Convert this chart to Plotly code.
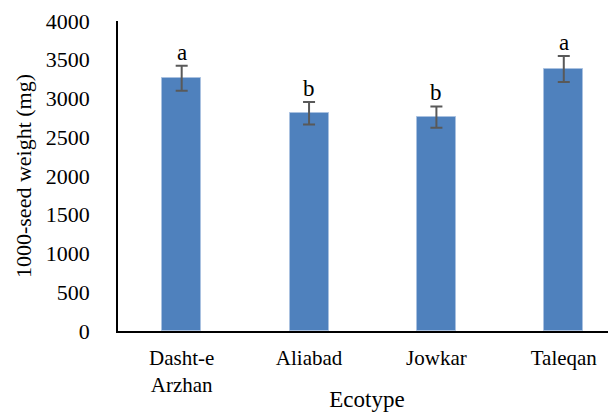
import plotly.graph_objects as go

categories = ["Dasht-e<br>Arzhan", "Aliabad", "Jowkar", "Taleqan"]
means = [3262, 2810, 2760, 3380]
errors = [162, 146, 138, 167]
letters = ["a", "b", "b", "a"]
y_ticks = [0, 500, 1000, 1500, 2000, 2500, 3000, 3500, 4000]

FONT = "Liberation Serif"

fig = go.Figure()
fig.add_trace(go.Bar(
    x=list(range(len(categories))),
    y=means,
    width=0.306,
    marker=dict(color="#4F81BD", line=dict(color="#A9C1E0", width=1)),
    error_y=dict(type="data", array=errors, visible=True,
                 color="#595959", thickness=2, width=6),
))

for i, (m, e, t) in enumerate(zip(means, errors, letters)):
    fig.add_annotation(x=i, y=m + e, text=t, showarrow=False,
                       yanchor="bottom", yshift=-1,
                       font=dict(family=FONT, size=23, color="black"))

# the page body has an 8px default margin, so the figure is sized to fit inside
fig.update_layout(
    width=608, height=404,
    margin=dict(l=110, r=0, t=13, b=81, autoexpand=False),
    paper_bgcolor="white", plot_bgcolor="white",
    showlegend=False,
    font=dict(family=FONT, size=20, color="black"),
    bargap=0,
)
fig.update_xaxes(
    range=[-0.5, 3.41], automargin=False,
    tickmode="array", tickvals=list(range(len(categories))), ticktext=categories,
    showline=True, linecolor="black", linewidth=1.5,
    ticks="", showgrid=False, zeroline=False,
    ticklabelstandoff=7,
    tickfont=dict(family=FONT, size=21),
    title=dict(text="Ecotype", font=dict(family=FONT, size=23), standoff=10),
)
fig.update_yaxes(
    range=[0, 4000], automargin=False,
    tickmode="array", tickvals=y_ticks,
    showline=True, linecolor="black", linewidth=1.5,
    ticks="", showgrid=False, zeroline=False,
    ticklabelstandoff=22,
    tickfont=dict(family=FONT, size=22),
    title=dict(text="1000-seed weight (mg)", font=dict(family=FONT, size=22), standoff=8),
)

fig.write_html("out.html")
